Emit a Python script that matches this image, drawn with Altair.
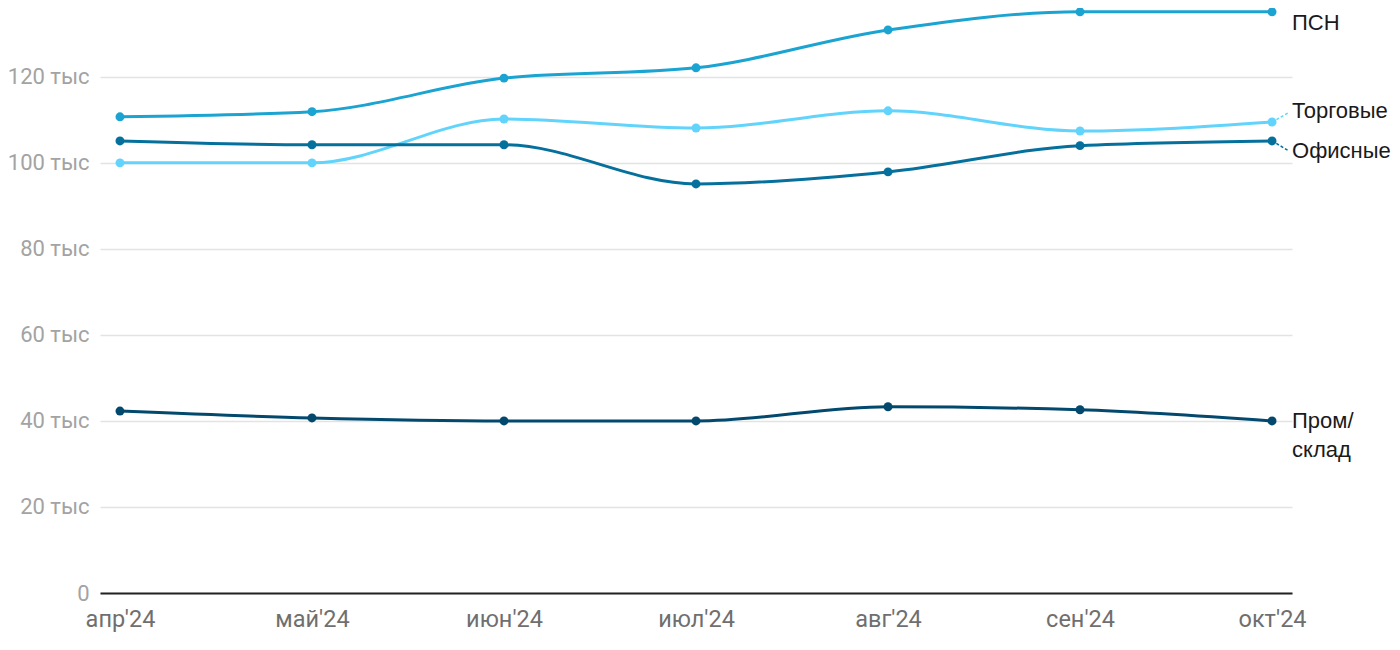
import altair as alt
import pandas as pd

months = ["апр'24", "май'24", "июн'24", "июл'24", "авг'24", "сен'24", "окт'24"]
series_names = ["ПСН", "Торговые", "Офисные", "Пром/склад"]
psn = [110.7, 111.9, 119.7, 122.1, 130.9, 135.1, 135.1]
torg = [100.0, 100.0, 110.2, 108.1, 112.1, 107.4, 109.5]
ofis = [105.1, 104.2, 104.2, 95.1, 97.9, 104.0, 105.1]
prom = [42.3, 40.7, 40.0, 40.0, 43.3, 42.6, 40.0]
colors = ["#1ba3d2", "#62d4fb", "#06709c", "#03496d"]

# right-side labels: text, anchor value (thousands)
label_series = ["ПСН", "Торговые", "Офисные", "Пром/склад", "Пром/склад"]
label_text = ["ПСН", "Торговые", "Офисные", "Пром/", "склад"]
label_value = [132.6, 112.1, 102.8, 40.0, 33.3]
# leader lines
leader_series = ["Торговые", "Офисные"]
leader_from = [109.5, 105.1]
leader_to = [111.6, 102.9]

rows = []
for name, vals in zip(series_names, [psn, torg, ofis, prom]):
    for m, v in zip(months, vals):
        rows.append({"month": m, "series": name, "value": v})
df = pd.DataFrame(rows)
labels = pd.DataFrame({"series": label_series, "text": label_text,
                       "value": label_value, "month": [months[-1]] * 5})
leaders = pd.DataFrame({"series": leader_series, "v1": leader_from, "v2": leader_to,
                        "month": [months[-1]] * 2})

color_scale = alt.Scale(domain=series_names, range=colors)
x = alt.X("month:O", sort=months,
          scale=alt.Scale(type="point", padding=0.104),
          axis=alt.Axis(title=None, labelAngle=0, labelFont="Roboto", labelFontSize=23.5,
                        labelColor="#6f6f6f", ticks=False, domainColor="#222222",
                        domainWidth=2, labelPadding=14, grid=False))
y = alt.Y("value:Q", scale=alt.Scale(domain=[0, 136], nice=False, zero=True),
          axis=alt.Axis(title=None, values=[0, 20, 40, 60, 80, 100, 120],
                        labelExpr="datum.value == 0 ? '0' : datum.value + ' тыс'",
                        labelFont="Roboto", labelFontSize=22, labelColor="#a3a3a3",
                        ticks=False, domain=False, labelPadding=11,
                        gridColor="#e3e3e3", gridWidth=1.5))

base = alt.Chart(df).encode(x=x, y=y,
                            color=alt.Color("series:N", scale=color_scale, legend=None))
lines = base.mark_line(interpolate="monotone", strokeWidth=3)
points = base.mark_circle(size=80, opacity=1)

lead = alt.Chart(leaders).mark_rule(strokeWidth=1.5, strokeDash=[3, 2], x2Offset=16).encode(
    x=alt.X("month:O", sort=months), x2=alt.X2("month:O"),
    y=alt.Y("v1:Q"), y2=alt.Y2("v2:Q"),
    color=alt.Color("series:N", scale=color_scale, legend=None))

text = alt.Chart(labels).mark_text(align="left", baseline="middle", dx=20,
                                   font="Liberation Sans", fontSize=22, color="#1a1a1a").encode(
    x=alt.X("month:O", sort=months), y=alt.Y("value:Q"), text="text:N")

chart = alt.layer(lines, points, lead, text).properties(
    width=1192, height=585, background="white",
    autosize=alt.AutoSizeParams(type="none"),
    padding={"left": 92, "top": 0, "right": 100, "bottom": 40},
).configure_view(strokeWidth=0, stroke=None)

chart.save("out.html", embed_options={"renderer": "svg", "actions": False})
